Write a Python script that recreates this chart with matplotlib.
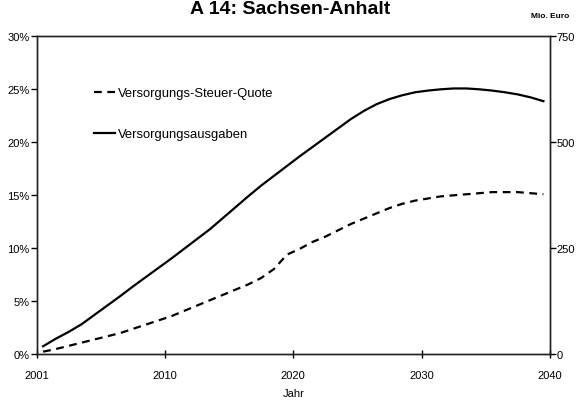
import matplotlib
matplotlib.use("Agg")
import matplotlib.pyplot as plt
import numpy as np

plt.rcParams['font.family'] = ['Liberation Sans', 'DejaVu Sans']

# data
years = list(range(2001, 2041))
quote = [0.25, 0.5, 0.8, 1.1, 1.4, 1.7, 2.0, 2.4, 2.8, 3.2,
         3.6, 4.1, 4.6, 5.1, 5.6, 6.1, 6.6, 7.2, 8.05, 9.4,
         9.95, 10.6, 11.1, 11.7, 12.3, 12.8, 13.3, 13.8, 14.2, 14.5,
         14.7, 14.9, 15.0, 15.1, 15.2, 15.3, 15.3, 15.3, 15.2, 15.1]
ausgaben = [19, 37, 53, 71, 93, 115, 137, 160, 182, 204,
            226, 249, 272, 295, 321, 347, 373, 398, 421, 444,
            467, 489, 511, 533, 555, 574, 590, 602, 611, 618,
            622, 625, 627, 627, 625, 622, 618, 613, 606, 597]
xticks = [2000, 2010, 2020, 2030, 2040]
xticklabels = ['2001', '2010', '2020', '2030', '2040']
pct_ticks = [0, 5, 10, 15, 20, 25, 30]
eur_ticks = [0, 250, 500, 750]

fig = plt.figure(figsize=(5.8, 4.1), dpi=100)
ax = fig.add_axes([0.0633, 0.1334, 0.8847, 0.7756])
ax2 = ax.twinx()

# category axis: points sit in the middle of each year slot
xpos = np.array(years) - 0.5
l1, = ax.plot(xpos, quote, color='black', lw=1.6, ls=(0, (3.5, 2.5)),
              label='Versorgungs-Steuer-Quote')
l2, = ax2.plot(xpos, ausgaben, color='black', lw=1.6,
               label='Versorgungsausgaben')

ax.set_xlim(2000, 2040)
ax.set_ylim(0, 30)
ax2.set_ylim(0, 750)
ax.set_xticks(xticks)
ax.set_xticklabels(xticklabels)
ax.set_yticks(pct_ticks)
ax.set_yticklabels([f'{t}%' for t in pct_ticks])
ax2.set_yticks(eur_ticks)
ax2.set_yticklabels([str(t) for t in eur_ticks])

for a in (ax, ax2):
    for s in a.spines.values():
        s.set_linewidth(1.0)
        s.set_color('#222222')
ax.tick_params(axis='x', direction='inout', length=6, width=1, labelsize=8, pad=8)
ax.tick_params(axis='y', direction='out', length=4, width=1, labelsize=8, pad=1)
ax2.tick_params(axis='y', direction='out', length=4, width=1, labelsize=8, pad=1)

ax.set_xlabel('Jahr', fontsize=8, labelpad=6)

leg = ax.legend(handles=[l1, l2], loc='upper left', bbox_to_anchor=(0.112, 0.84),
                frameon=False, fontsize=9.4, handlelength=1.6, handletextpad=0.2,
                labelspacing=2.2, borderpad=0, borderaxespad=0)

fig.text(0.5, 0.966, 'A 14: Sachsen-Anhalt', ha='center', va='baseline',
         fontsize=14, fontweight='bold')
fig.text(0.982, 0.957, 'Mio. Euro', ha='right', va='baseline',
         fontsize=6, fontweight='bold')

fig.savefig('out.png', dpi=100)
